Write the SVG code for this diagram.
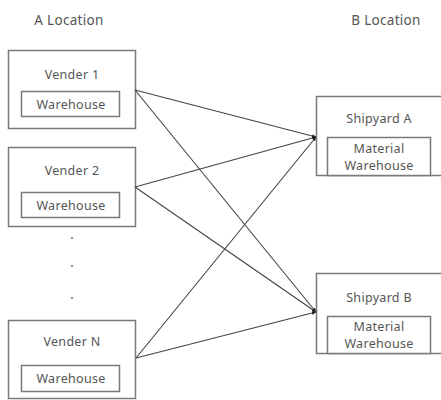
<svg xmlns="http://www.w3.org/2000/svg" width="441" height="400" viewBox="0 0 441 400">
<style>
.box{fill:#fff;stroke:#7a7a7a;stroke-width:1.5}
.t{font-family:"Noto Sans","DejaVu Sans",sans-serif;font-size:12.5px;fill:#555;text-anchor:middle;letter-spacing:0.3px}
.h{font-size:13.5px}
.c{stroke:#444;stroke-width:1.1;fill:none;marker-end:url(#ah)}
.dot{fill:#666}
</style>
<defs>
<marker id="ah" viewBox="0 0 6 6" refX="6" refY="3" markerWidth="4" markerHeight="4" orient="auto" markerUnits="userSpaceOnUse">
<path d="M0,0 L6,3 L0,6 z" fill="#222"/>
</marker>
</defs>
<rect width="441" height="400" fill="#fff"/>
<text class="t h" x="69" y="25">A Location</text>
<text class="t h" x="386" y="25">B Location</text>
<g id="vender1">
<rect class="box" x="8.5" y="50.5" width="127" height="78"/>
<text class="t" x="72" y="79">Vender 1</text>
<rect class="box" x="21.5" y="91.5" width="98" height="25"/>
<text class="t" x="71" y="108.5">Warehouse</text>
</g>
<g id="vender2">
<rect class="box" x="8.5" y="147.5" width="127" height="79"/>
<text class="t" x="72" y="175">Vender 2</text>
<rect class="box" x="21.5" y="192.5" width="98" height="25"/>
<text class="t" x="71" y="209.5">Warehouse</text>
</g>
<g id="dots">
<circle class="dot" cx="72" cy="238" r="1"/>
<circle class="dot" cx="72" cy="266" r="1"/>
<circle class="dot" cx="72" cy="298" r="1"/>
</g>
<g id="venderN">
<rect class="box" x="8.5" y="320.5" width="127" height="78"/>
<text class="t" x="72" y="346">Vender N</text>
<rect class="box" x="21.5" y="365.5" width="98" height="26"/>
<text class="t" x="71" y="383">Warehouse</text>
</g>
<g id="shipyardA">
<rect class="box" x="316.5" y="96.5" width="130" height="79"/>
<text class="t" x="379" y="123">Shipyard A</text>
<rect class="box" x="327.5" y="137.5" width="103" height="38"/>
<text class="t" x="379" y="153">Material</text>
<text class="t" x="379" y="170">Warehouse</text>
</g>
<g id="shipyardB">
<rect class="box" x="316.5" y="273.5" width="130" height="80"/>
<text class="t" x="379" y="302">Shipyard B</text>
<rect class="box" x="327.5" y="316.5" width="103" height="37"/>
<text class="t" x="379" y="331">Material</text>
<text class="t" x="379" y="348">Warehouse</text>
</g>
<g id="connectors">
<line class="c" x1="135" y1="90" x2="316" y2="137"/>
<line class="c" x1="135" y1="90" x2="316" y2="312"/>
<line class="c" x1="135" y1="187" x2="316" y2="137"/>
<line class="c" x1="135" y1="187" x2="316" y2="312"/>
<line class="c" x1="136" y1="358" x2="316" y2="137"/>
<line class="c" x1="136" y1="358" x2="316" y2="312"/>
</g>
</svg>
